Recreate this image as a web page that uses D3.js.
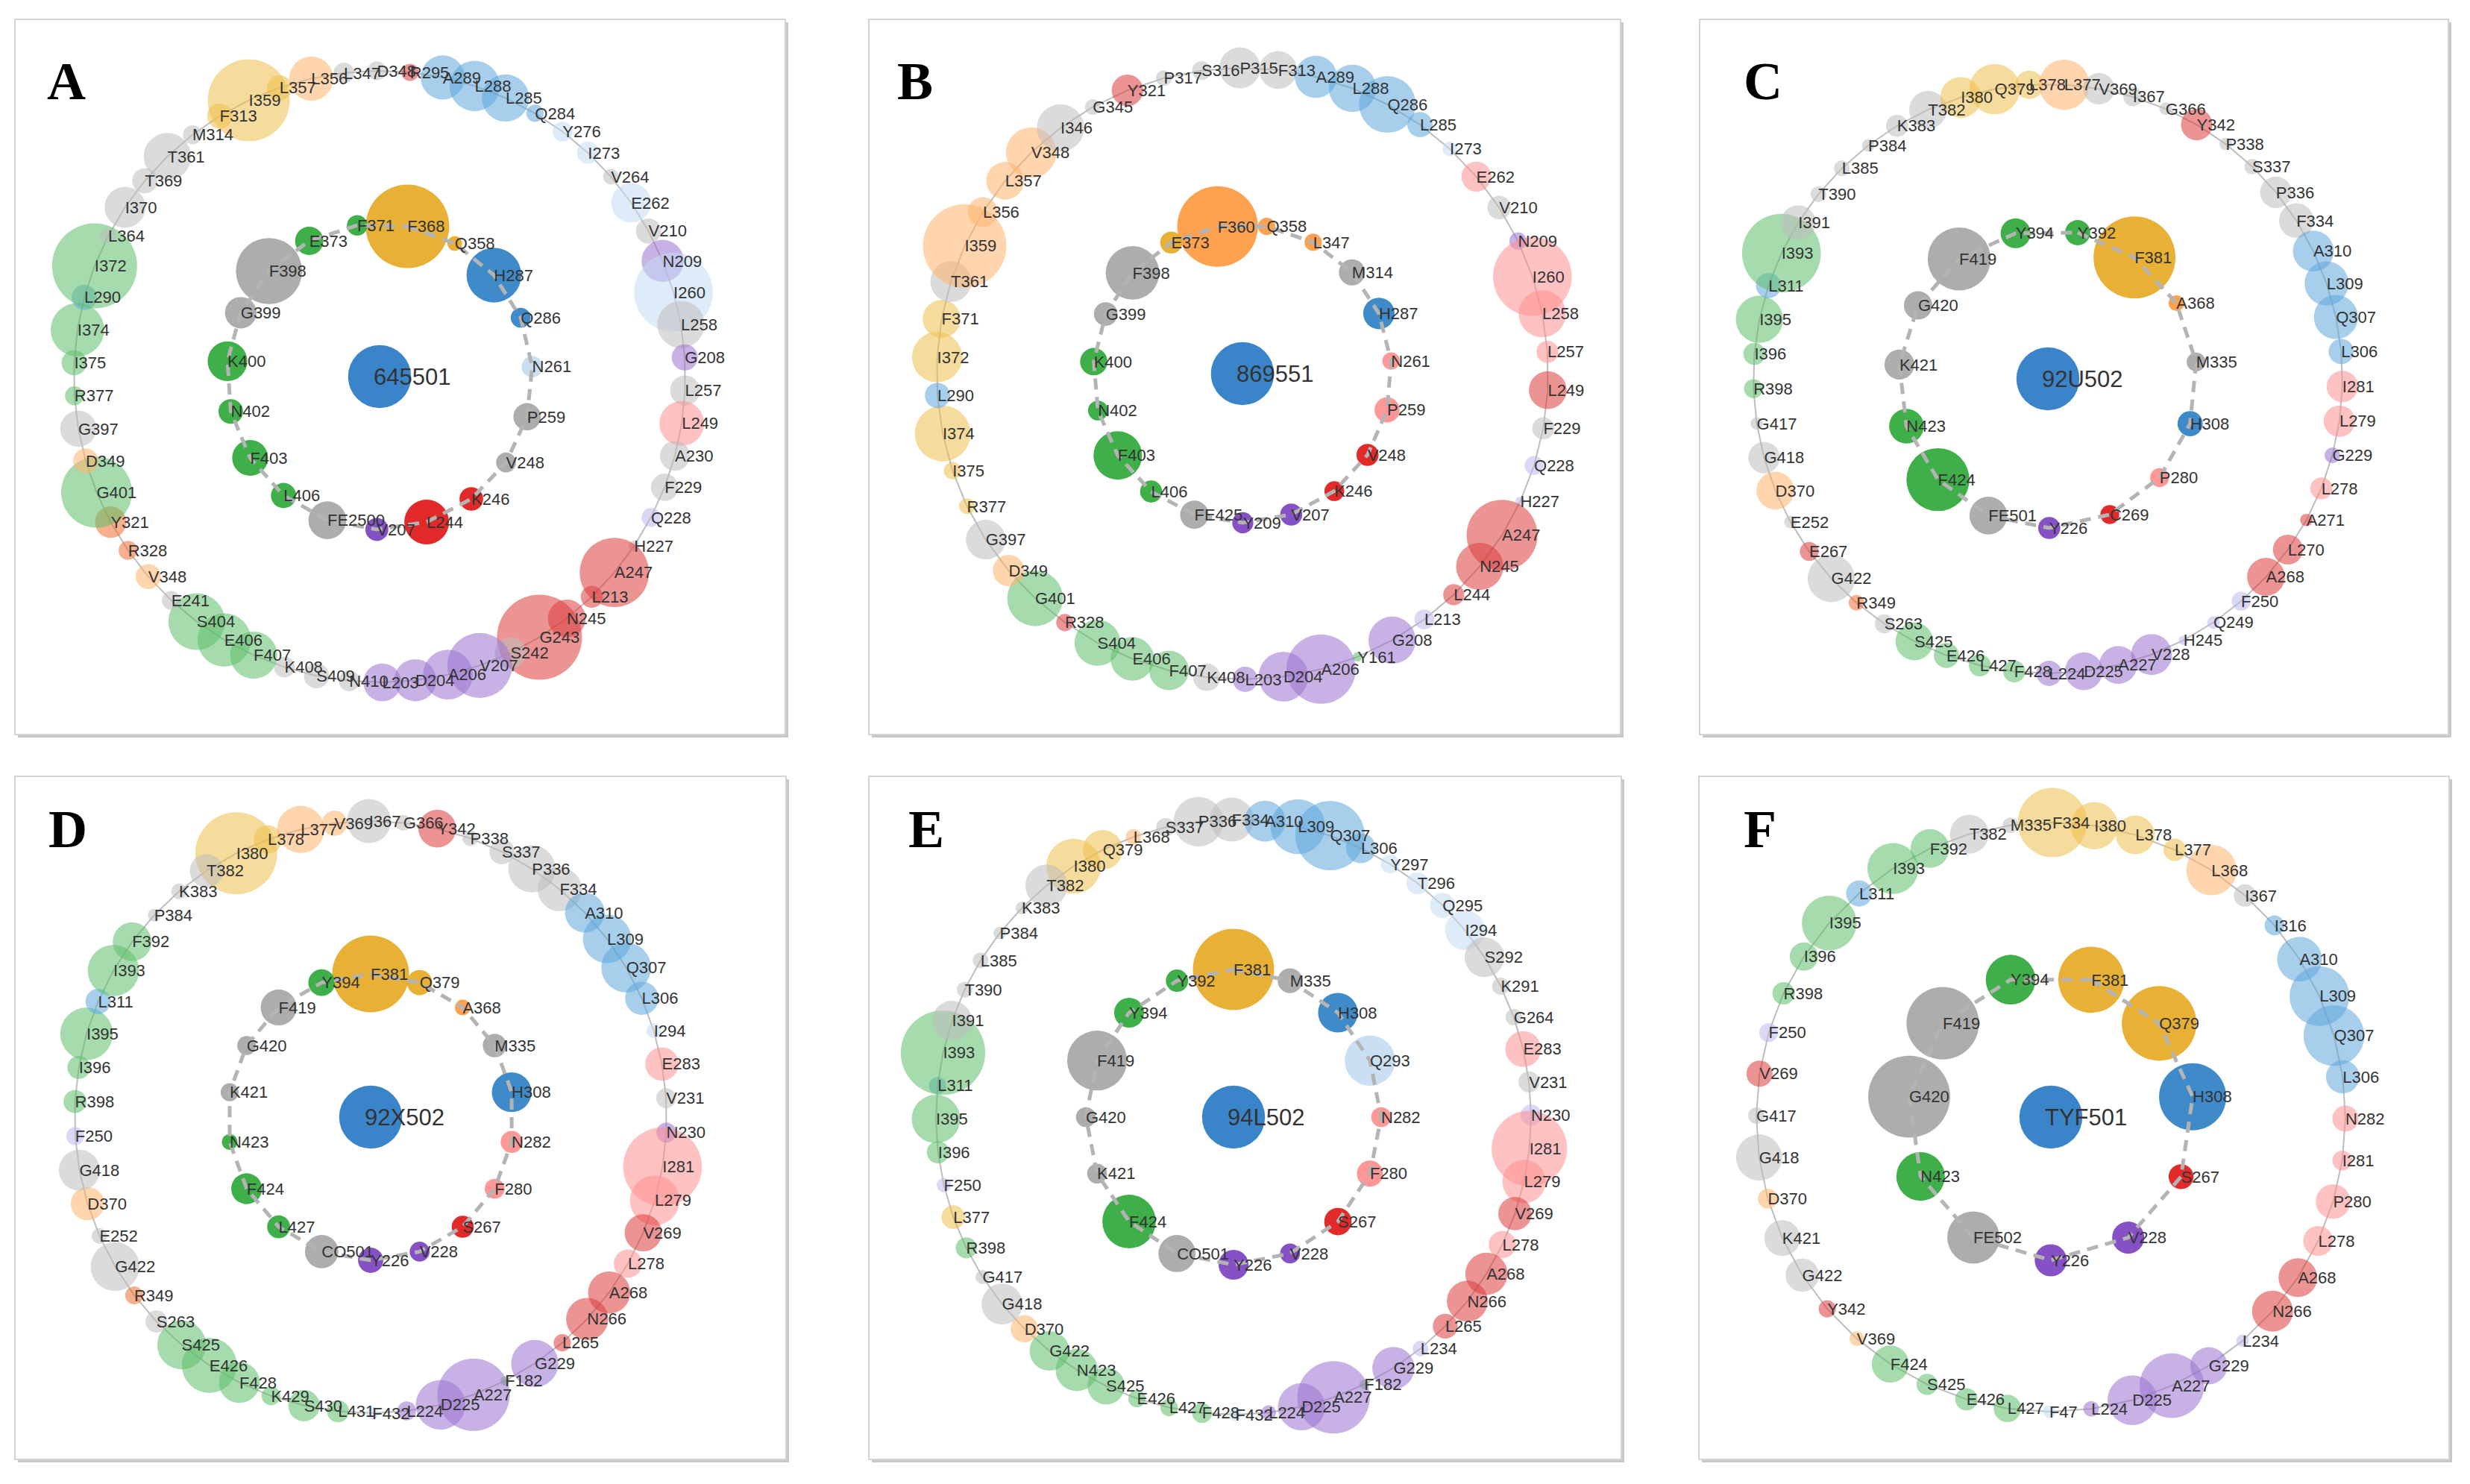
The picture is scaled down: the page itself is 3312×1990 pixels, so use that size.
<!DOCTYPE html>
<html><head><meta charset="utf-8">
<script src="https://cdn.jsdelivr.net/npm/d3@7"></script>
<style>body{margin:0;background:#fff}</style>
</head><body>
<svg id="chart" width="3312" height="1990"></svg>
<script>
// ---------------- DATA ----------------
const panelLetters = ["A","B","C","D","E","F"];
const ligands = ["645501","869551","92U502","92X502","94L502","TYF501"];
// each ring: [residue, colour group, interaction size], listed clockwise
const innerA = [["F368","Y",26.5],["Q358","Y",4.7],["H287","B",17.4],["Q286","B",6.3],["N261","b",6.7],["P259","A",8.7],["V248","A",6.3],["K246","R",7.5],["L244","R",14.2],["V207","U",7.3],["FE2500","A",12],["L406","G",8],["F403","G",11.4],["N402","G",7.8],["K400","G",12.6],["G399","A",10],["F398","A",21],["E373","G",9],["F371","G",6.5]];
const outerA = [["L203","U",12],["N410","A",6.6],["S409","A",8],["K408","A",6.6],["F407","G",15],["E406","G",17],["S404","G",18],["E241","A",6],["V348","O",8],["R328","o",6],["Y321","o",10],["G401","G",22.5],["D349","O",8],["G397","A",11.5],["R377","G",6],["I375","G",8],["I374","G",17],["L290","B",8],["I372","G",27],["L364","A",5],["I370","A",13],["T369","A",8],["T361","A",15],["M314","A",6],["F313","Y",8],["I359","Y",26],["L357","Y",8],["L356","O",14],["L347","A",6.5],["D348","A",6],["R295","R",5.5],["A289","B",14],["L288","B",16],["L285","B",15],["Q284","B",5.5],["Y276","b",6.3],["I273","b",7],["V264","A",5],["E262","b",12.6],["V210","A",8],["N209","U",13.4],["I260","b",25],["L258","A",15],["G208","U",8.3],["L257","A",9.5],["L249","P",14.2],["A230","A",9.5],["F229","A",8.7],["Q228","L",6],["H227","A",3.5],["A247","R",22],["L213","R",7],["N245","R",12],["G243","R",27],["S242","A",10],["V207","U",20.6],["A206","U",15.8],["D204","U",13.4]];
const innerB = [["F360","O",25.6],["Q358","O",5.5],["L347","O",5.5],["M314","A",8.3],["H287","B",10],["N261","P",5.5],["P259","P",8],["V248","R",7],["K246","R",6.3],["V207","U",7],["Y209","U",6.7],["FE425","A",9],["L406","G",7],["F403","G",15.4],["N402","G",6.3],["K400","G",8.7],["G399","A",7.5],["F398","A",17],["E373","Y",7]];
const outerB = [["K408","A",8.7],["F407","G",12.6],["E406","G",13.8],["S404","G",14.6],["R328","R",5.5],["G401","G",17.7],["D349","O",10],["G397","A",12.6],["R377","Y",5],["I375","Y",5.5],["I374","Y",17.7],["L290","B",8],["I372","Y",16],["F371","Y",12],["T361","A",13],["I359","O",26.5],["L356","O",9.5],["L357","O",12],["V348","O",16],["I346","A",15],["G345","A",5],["Y321","R",10],["P317","A",5],["S316","A",6],["P315","A",13],["F313","A",12],["A289","B",13.4],["L288","B",15],["Q286","B",18],["L285","B",8],["I273","b",4.7],["E262","P",9.5],["V210","A",7.5],["N209","U",5.5],["I260","P",25],["L258","P",15],["L257","P",7],["L249","R",12],["F229","A",7],["Q228","L",6],["H227","L",3],["A247","R",22.5],["N245","R",15],["L244","R",6.7],["L213","L",6.3],["G208","U",15],["Y161","G",3],["A206","U",22],["D204","U",15.8],["L203","U",8]];
const innerC = [["Y392","G",8],["F381","Y",26],["A368","O",5],["M335","A",6],["H308","B",8],["P280","P",6],["C269","R",6],["Y226","U",7],["FE501","A",12],["F424","G",20],["N423","G",11],["K421","A",9.5],["G420","A",9],["F419","A",20],["Y394","G",9.5]];
const outerC = [["T382","A",12],["I380","Y",13],["Q379","Y",16],["L378","Y",9],["L377","O",16],["V369","A",10],["I367","A",6],["G366","A",4],["Y342","R",10],["P338","A",4],["S337","A",5],["P336","A",10],["F334","A",11],["A310","B",13],["L309","B",14],["Q307","B",14],["L306","B",8],["I281","P",10],["L279","P",10],["G229","U",5],["L278","P",7],["A271","R",4],["L270","R",9.5],["A268","R",12],["F250","L",6],["Q249","L",4],["H245","L",3],["V228","U",13],["A227","U",12],["D225","U",12],["L224","U",8],["F428","G",7],["L427","G",7],["E426","G",8],["S425","G",12],["S263","A",6],["R349","o",5],["G422","A",15],["E267","R",6],["E252","A",4],["D370","O",12],["G418","A",10],["G417","A",4],["R398","G",6],["I396","G",7],["I395","G",15],["L311","B",8],["I393","G",25],["I391","A",11],["T390","A",5],["L385","A",5],["P384","A",4],["K383","A",7]];
const innerD = [["F381","Y",24.4],["Q379","Y",8],["A368","O",5],["M335","A",7.5],["H308","B",12.6],["N282","P",7],["F280","P",6.3],["S267","R",7],["V228","U",6.3],["Y226","U",8],["CO501","A",10.6],["L427","G",7.3],["F424","G",9.8],["N423","G",5],["K421","A",5.7],["G420","A",6],["F419","A",11.4],["Y394","G",8.5]];
const outerD = [["I380","Y",26],["L378","Y",9],["L377","O",15],["V369","O",8],["I367","A",14],["G366","A",5],["Y342","R",12],["P338","A",5],["S337","A",8],["P336","A",15],["F334","A",14],["A310","B",12.6],["L309","B",15.4],["Q307","B",15.8],["L306","B",10.6],["I294","b",4.7],["E283","P",10.6],["V231","A",6.3],["N230","U",6.3],["I281","P",25],["L279","P",15.8],["V269","R",11.8],["L278","P",9],["A268","R",13.4],["N266","R",13.4],["L265","R",5.5],["G229","U",15],["F182","G",3],["A227","U",23],["D225","U",15.8],["L224","U",6],["F432","b",4],["L431","G",7],["S430","G",10],["K429","G",6],["F428","G",13],["E426","G",17.5],["S425","G",15.5],["S263","A",7],["R349","o",5.7],["G422","A",15.5],["E252","A",5],["D370","O",10.6],["G418","A",13],["F250","L",5.7],["R398","G",7.3],["I396","G",7.3],["I395","G",16.7],["L311","B",8],["I393","G",16.3],["F392","G",12.3],["P384","A",4],["K383","A",5],["T382","A",10.6]];
const innerE = [["F381","Y",25.8],["M335","A",7.9],["H308","B",12.6],["Q293","b",16],["N282","P",6.3],["F280","P",8.3],["S267","R",8.7],["V228","U",6.3],["Y226","U",9.5],["CO501","A",11.8],["F424","G",17],["K421","A",6.3],["G420","A",6.3],["F419","A",19],["Y394","G",9.5],["Y392","G",7.1]];
const outerE = [["I380","Y",17.4],["Q379","Y",12.6],["L368","O",5],["S337","A",6],["P336","A",15.8],["F334","A",14],["A310","B",13],["L309","B",17.4],["Q307","B",22],["L306","B",9.5],["Y297","b",6],["T296","b",7],["Q295","b",8],["I294","b",12.6],["S292","A",12.6],["K291","A",5.5],["G264","A",5.2],["E283","P",11.4],["V231","A",6.7],["N230","L",6.7],["I281","P",24],["L279","P",13.8],["V269","R",10.6],["L278","P",8.7],["A268","R",13.4],["N266","R",13],["L265","R",7.9],["L234","L",5],["G229","U",13.4],["F182","G",3],["A227","U",23],["D225","U",15],["L224","U",4.7],["F432","b",4],["F428","G",6.3],["L427","G",5.5],["E426","G",5.5],["S425","G",11.8],["N423","G",13.4],["G422","G",12.6],["D370","O",8.7],["G418","A",13],["G417","A",4.5],["R398","G",6.7],["L377","Y",7.5],["F250","L",4.5],["I396","G",7.1],["I395","G",15.4],["L311","B",5.5],["I393","G",26.8],["I391","A",12.6],["T390","A",5],["L385","A",5],["P384","A",4],["K383","A",4],["T382","A",13.4]];
const innerF = [["F381","Y",21],["Q379","Y",23.7],["H308","B",21.3],["S267","R",7.9],["V228","U",10.2],["Y226","U",10.2],["FE502","A",16.6],["N423","G",15.4],["G420","A",26],["F419","A",23],["Y394","G",15.8]];
const outerF = [["F334","Y",22],["I380","Y",15],["L378","Y",12.3],["L377","Y",7.1],["L368","O",16],["I367","A",7.1],["I316","B",6.3],["A310","B",14.2],["L309","B",19],["Q307","B",19.3],["L306","B",10.6],["N282","P",8.3],["I281","P",6.3],["P280","P",11],["L278","P",9.5],["A268","R",12.3],["N266","R",13],["L234","L",4],["G229","U",11.8],["A227","U",20.5],["D225","U",15.8],["L224","U",5],["F47","b",4],["L427","G",8.7],["E426","G",7.1],["S425","G",6.7],["F424","G",11.8],["V369","O",4.7],["Y342","R",5.5],["G422","A",10.6],["K421","A",11.4],["D370","O",6.3],["G418","A",14.6],["G417","A",5.2],["V269","R",8.3],["F250","L",6],["R398","G",7.1],["I396","G",9],["I395","G",17.4],["L311","B",8.3],["I393","G",16.2],["F392","G",12.3],["T382","A",12.3],["M335","A",5]];
const centerSize = 20;

const innerRings = [innerA, innerB, innerC, innerD, innerE, innerF];
const outerRings = [outerA, outerB, outerC, outerD, outerE, outerF];

// ---------------- LAYOUT ----------------
const K = 2.112;
const layout = [
  {frame:[20,26,1053,985],   letter:[63,133],   cx:509,  cy:505,  rIn:205, rOut:410, aIn:10.5, aOut:179.5},
  {frame:[1165,26,2173,985], letter:[1203,133], cx:1666, cy:501,  rIn:200, rOut:410, aIn:-9.6, aOut:186.7},
  {frame:[2279,26,3283,985], letter:[2338,133], cx:2746, cy:508,  rIn:200, rOut:395, aIn:11.5, aOut:-24},
  {frame:[20,1041,1054,1957],letter:[65,1136],  cx:497,  cy:1498, rIn:192, rOut:397, aIn:0,    aOut:-27},
  {frame:[1165,1041,2174,1957],letter:[1218,1136],cx:1654,cy:1498, rIn:198, rOut:399, aIn:0,    aOut:-32.5},
  {frame:[2278,1041,3284,1957],letter:[2338,1136],cx:2750,cy:1498, rIn:192, rOut:395, aIn:16.4, aOut:0.3}
];

const groups = ["Y","O","o","B","b","G","R","P","U","L","A"];
const outerColor = d3.scaleOrdinal().domain(groups)
  .range(["#eec04a","#ffb26b","#f07030","#5fa8dc","#c2daf2","#5cbf6a","#dc3c3c","#ff8f8f","#9b72d0","#bcb8ec","#bdbdbd"]);
const innerColor = d3.scaleOrdinal().domain(groups)
  .range(["#e6a923","#ff9a40","#ff8c1a","#2f80c4","#c6dcf0","#2fa83a","#e01818","#ff8e8e","#7b42c0","#b0a8e0","#a6a6a6"]);
const sizeScale = d3.scaleLinear().domain([0, 30]).range([0, 30 * K]);

const svg = d3.select("#chart");
svg.append("rect").attr("width",3312).attr("height",1990).attr("fill","#fff");

layout.forEach((L, i) => {
  const g = svg.append("g");
  const [x0,y0,x1,y1] = L.frame;
  g.append("rect").attr("x",x0+4).attr("y",y0+4).attr("width",x1-x0).attr("height",y1-y0).attr("fill","#c8c8c8");
  g.append("rect").attr("x",x0).attr("y",y0).attr("width",x1-x0).attr("height",y1-y0)
    .attr("fill","#fff").attr("stroke","#d4d4d4").attr("stroke-width",2);

  const place = (ring, r, start) => {
    const ang = d3.scaleLinear().domain([0, ring.length]).range([start, start + 360]);
    return ring.map((d, j) => {
      const p = d3.pointRadial(ang(j) * Math.PI / 180, r);
      return {label:d[0], group:d[1], size:d[2], x:L.cx + p[0], y:L.cy + p[1]};
    });
  };
  const outer = place(outerRings[i], L.rOut, L.aOut);
  const inner = place(innerRings[i], L.rIn, L.aIn);
  const line = d3.line().x(d => d.x).y(d => d.y).curve(d3.curveLinearClosed);

  g.append("path").attr("d", line(outer)).attr("fill","none")
    .attr("stroke","#bdbdbd").attr("stroke-width",2);
  g.append("g").selectAll("circle").data(outer).join("circle")
    .attr("cx", d => d.x).attr("cy", d => d.y).attr("r", d => sizeScale(d.size))
    .attr("fill", d => outerColor(d.group)).attr("fill-opacity", 0.55);

  g.append("g").selectAll("circle").data(inner).join("circle")
    .attr("cx", d => d.x).attr("cy", d => d.y).attr("r", d => sizeScale(d.size))
    .attr("fill", d => innerColor(d.group)).attr("fill-opacity", 0.92);
  g.append("path").attr("d", line(inner)).attr("fill","none")
    .attr("stroke","#b4b4b4").attr("stroke-width",5).attr("stroke-dasharray","15,10");

  g.append("circle").attr("cx",L.cx).attr("cy",L.cy).attr("r",sizeScale(centerSize))
    .attr("fill","#2f7ec6").attr("fill-opacity",0.95);

  const lab = g.append("g").attr("font-family","Liberation Sans, Arial, sans-serif")
    .attr("font-size",22).attr("fill","#333");
  lab.selectAll("text").data(outer.concat(inner)).join("text")
    .attr("x", d => d.x).attr("y", d => d.y).attr("dy","0.35em").text(d => d.label);

  g.append("text").attr("x",L.cx - 8).attr("y",L.cy).attr("dy","0.35em")
    .attr("font-family","Liberation Sans, Arial, sans-serif").attr("font-size",31)
    .attr("fill","#333").text(ligands[i]);

  g.append("text").attr("x",L.letter[0]).attr("y",L.letter[1])
    .attr("font-family","Liberation Serif, Times New Roman, serif").attr("font-weight","bold")
    .attr("font-size",72).attr("fill","#000").text(panelLetters[i]);
});
</script>
</body></html>
